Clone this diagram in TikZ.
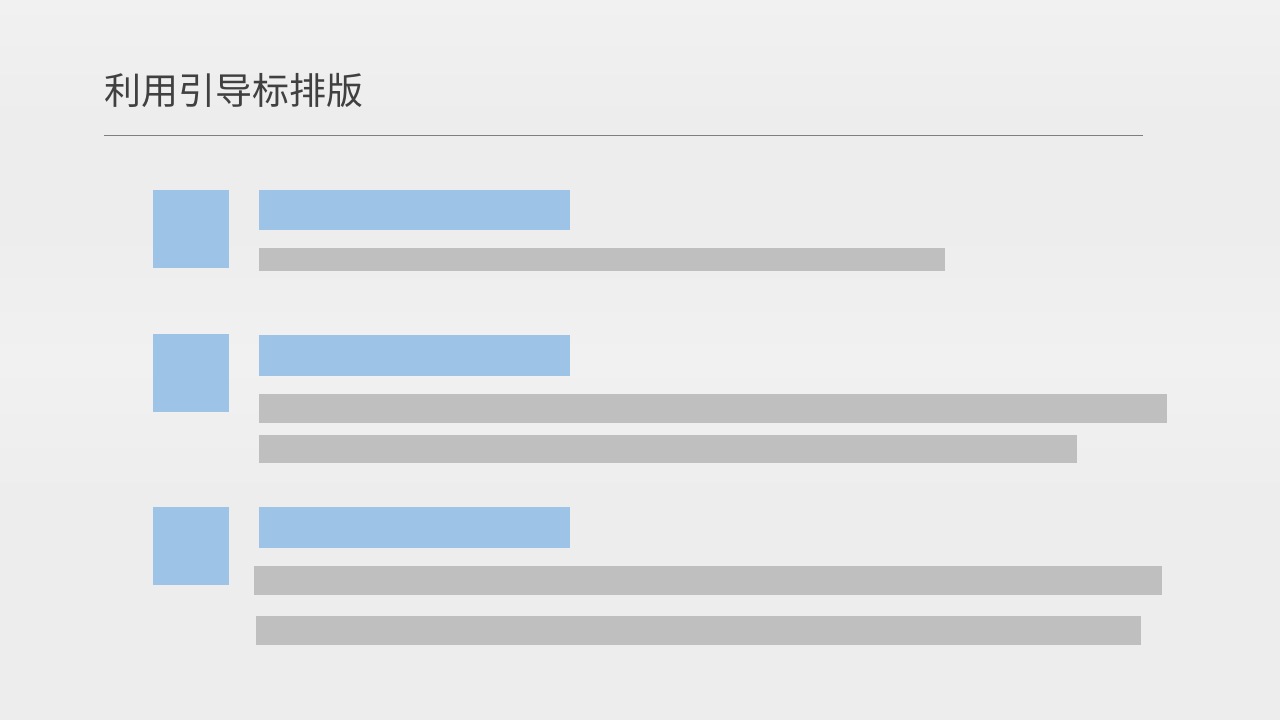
\documentclass[tikz,border=0pt]{standalone}
\usepackage{fontspec}
\newfontfamily\cjk{Noto Sans CJK SC}
\definecolor{bg}{HTML}{EDEDED}
\definecolor{bglight}{HTML}{F1F1F1}
\definecolor{blueb}{HTML}{9DC3E6}
\definecolor{grayb}{HTML}{BFBFBF}
\definecolor{titlec}{HTML}{404040}
\definecolor{rulec}{HTML}{7F7F7F}
\tikzset{
  blk/.style={rectangle, inner sep=0pt, outer sep=0pt, anchor=north west, draw=none},
  bluebox/.style={blk, fill=blueb},
  graybar/.style={blk, fill=grayb},
}
\begin{document}
\begin{tikzpicture}[x=1pt,y=-1pt]
\fill[bg] (0,0) rectangle (1280,720);
\shade[top color=bglight, bottom color=bg] (0,0) rectangle (1280,120);
\shade[top color=bg, bottom color=bglight] (0,230) rectangle (1280,360);
\shade[top color=bglight, bottom color=bg] (0,360) rectangle (1280,500);
\useasboundingbox (0,0) rectangle (1280,720);
% title
\node[anchor=base west, inner sep=0pt, text=titlec, font=\cjk\fontsize{37}{40}\selectfont] (title) at (104,104) {利用引导标排版};
\coordinate (ruleL) at (104,135);
\coordinate (ruleR) at (1143,135);
\draw[rulec, line width=1pt] (ruleL) -- (ruleR);
% group 1
\node[bluebox, minimum width=76pt, minimum height=78pt] (sq1) at (153,190) {};
\node[bluebox, minimum width=311pt, minimum height=40pt] (hd1) at (259,190) {};
\node[graybar, minimum width=686pt, minimum height=23pt] (b11) at (259,248) {};
% group 2
\node[bluebox, minimum width=76pt, minimum height=78pt] (sq2) at (153,334) {};
\node[bluebox, minimum width=311pt, minimum height=41pt] (hd2) at (259,335) {};
\node[graybar, minimum width=908pt, minimum height=29pt] (b21) at (259,394) {};
\node[graybar, minimum width=818pt, minimum height=28pt] (b22) at (259,435) {};
% group 3
\node[bluebox, minimum width=76pt, minimum height=78pt] (sq3) at (153,507) {};
\node[bluebox, minimum width=311pt, minimum height=41pt] (hd3) at (259,507) {};
\node[graybar, minimum width=908pt, minimum height=29pt] (b31) at (254,566) {};
\node[graybar, minimum width=885pt, minimum height=29pt] (b32) at (256,616) {};
\end{tikzpicture}
\end{document}
